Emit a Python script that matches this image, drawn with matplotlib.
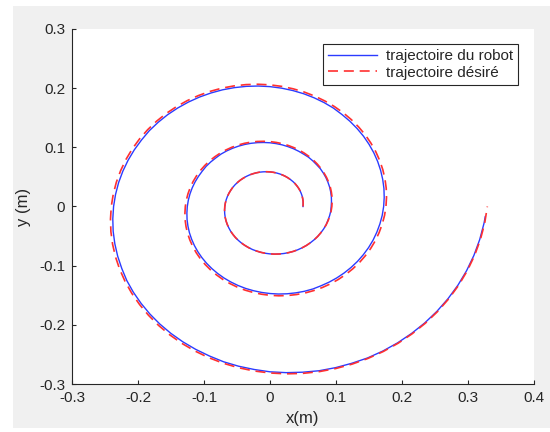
import numpy as np
import matplotlib
matplotlib.use("Agg")
import matplotlib.pyplot as plt
from matplotlib.patches import Rectangle

# Trajectories sampled every 5 degrees, in polar form: angle (deg), radius (m)
angle_desired = np.arange(0, 1081, 5)
radius_desired = [
    0.0500, 0.0504, 0.0509, 0.0513, 0.0518, 0.0522, 0.0527, 0.0532, 0.0536,
    0.0541, 0.0546, 0.0550, 0.0555, 0.0560, 0.0565, 0.0570, 0.0575, 0.0580,
    0.0585, 0.0590, 0.0595, 0.0601, 0.0606, 0.0611, 0.0617, 0.0622, 0.0627,
    0.0633, 0.0638, 0.0644, 0.0650, 0.0655, 0.0661, 0.0667, 0.0673, 0.0679,
    0.0685, 0.0691, 0.0697, 0.0703, 0.0709, 0.0715, 0.0721, 0.0728, 0.0734,
    0.0741, 0.0747, 0.0754, 0.0760, 0.0767, 0.0774, 0.0780, 0.0787, 0.0794,
    0.0801, 0.0808, 0.0815, 0.0822, 0.0829, 0.0837, 0.0844, 0.0851, 0.0859,
    0.0866, 0.0874, 0.0882, 0.0889, 0.0897, 0.0905, 0.0913, 0.0921, 0.0929,
    0.0937, 0.0945, 0.0954, 0.0962, 0.0971, 0.0979, 0.0988, 0.0996, 0.1005,
    0.1014, 0.1023, 0.1032, 0.1041, 0.1050, 0.1059, 0.1068, 0.1078, 0.1087,
    0.1097, 0.1106, 0.1116, 0.1126, 0.1136, 0.1146, 0.1156, 0.1166, 0.1176,
    0.1186, 0.1197, 0.1207, 0.1218, 0.1228, 0.1239, 0.1250, 0.1261, 0.1272,
    0.1283, 0.1294, 0.1306, 0.1317, 0.1329, 0.1340, 0.1352, 0.1364, 0.1376,
    0.1388, 0.1400, 0.1412, 0.1425, 0.1437, 0.1450, 0.1463, 0.1475, 0.1488,
    0.1501, 0.1515, 0.1528, 0.1541, 0.1555, 0.1568, 0.1582, 0.1596, 0.1610,
    0.1624, 0.1638, 0.1653, 0.1667, 0.1682, 0.1697, 0.1711, 0.1726, 0.1742,
    0.1757, 0.1772, 0.1788, 0.1803, 0.1819, 0.1835, 0.1851, 0.1867, 0.1884,
    0.1900, 0.1917, 0.1934, 0.1951, 0.1968, 0.1985, 0.2003, 0.2020, 0.2038,
    0.2056, 0.2074, 0.2092, 0.2110, 0.2129, 0.2147, 0.2166, 0.2185, 0.2204,
    0.2224, 0.2243, 0.2263, 0.2283, 0.2303, 0.2323, 0.2343, 0.2364, 0.2384,
    0.2405, 0.2426, 0.2448, 0.2469, 0.2491, 0.2513, 0.2535, 0.2557, 0.2579,
    0.2602, 0.2625, 0.2648, 0.2671, 0.2694, 0.2718, 0.2742, 0.2766, 0.2790,
    0.2814, 0.2839, 0.2864, 0.2889, 0.2914, 0.2940, 0.2966, 0.2992, 0.3018,
    0.3044, 0.3071, 0.3098, 0.3125, 0.3153, 0.3180, 0.3208, 0.3236, 0.3265,
    0.3293,
]

angle_robot = np.append(np.arange(0, 1076, 5), 1077)
radius_robot = [
    0.0500, 0.0504, 0.0509, 0.0513, 0.0518, 0.0522, 0.0527, 0.0532, 0.0536,
    0.0541, 0.0546, 0.0550, 0.0555, 0.0560, 0.0565, 0.0570, 0.0575, 0.0580,
    0.0585, 0.0590, 0.0595, 0.0601, 0.0606, 0.0611, 0.0617, 0.0622, 0.0627,
    0.0633, 0.0638, 0.0644, 0.0650, 0.0655, 0.0661, 0.0667, 0.0673, 0.0679,
    0.0685, 0.0691, 0.0697, 0.0703, 0.0709, 0.0715, 0.0721, 0.0728, 0.0734,
    0.0741, 0.0747, 0.0754, 0.0760, 0.0767, 0.0774, 0.0780, 0.0787, 0.0794,
    0.0801, 0.0808, 0.0815, 0.0822, 0.0829, 0.0837, 0.0844, 0.0851, 0.0859,
    0.0866, 0.0874, 0.0882, 0.0889, 0.0897, 0.0905, 0.0908, 0.0916, 0.0924,
    0.0927, 0.0935, 0.0944, 0.0952, 0.0961, 0.0969, 0.0978, 0.0986, 0.0995,
    0.0999, 0.1008, 0.1017, 0.1021, 0.1030, 0.1039, 0.1048, 0.1058, 0.1067,
    0.1077, 0.1086, 0.1096, 0.1106, 0.1116, 0.1126, 0.1136, 0.1146, 0.1156,
    0.1161, 0.1172, 0.1182, 0.1188, 0.1198, 0.1209, 0.1220, 0.1231, 0.1242,
    0.1253, 0.1264, 0.1276, 0.1287, 0.1299, 0.1310, 0.1322, 0.1334, 0.1346,
    0.1358, 0.1370, 0.1382, 0.1395, 0.1407, 0.1420, 0.1433, 0.1445, 0.1458,
    0.1471, 0.1485, 0.1498, 0.1511, 0.1525, 0.1538, 0.1547, 0.1561, 0.1575,
    0.1589, 0.1603, 0.1618, 0.1632, 0.1647, 0.1662, 0.1676, 0.1691, 0.1707,
    0.1722, 0.1737, 0.1753, 0.1768, 0.1784, 0.1800, 0.1816, 0.1832, 0.1849,
    0.1865, 0.1882, 0.1899, 0.1921, 0.1938, 0.1955, 0.1973, 0.1990, 0.2008,
    0.2026, 0.2044, 0.2062, 0.2080, 0.2099, 0.2117, 0.2136, 0.2155, 0.2174,
    0.2194, 0.2213, 0.2233, 0.2248, 0.2268, 0.2288, 0.2308, 0.2329, 0.2349,
    0.2370, 0.2391, 0.2413, 0.2434, 0.2456, 0.2478, 0.2505, 0.2527, 0.2549,
    0.2572, 0.2595, 0.2618, 0.2641, 0.2664, 0.2688, 0.2717, 0.2741, 0.2765,
    0.2794, 0.2819, 0.2844, 0.2874, 0.2899, 0.2925, 0.2956, 0.2982, 0.3008,
    0.3034, 0.3061, 0.3088, 0.3115, 0.3143, 0.3170, 0.3198, 0.3226, 0.3255,
    0.3266,
]

x_ticks = [-0.3, -0.2, -0.1, 0, 0.1, 0.2, 0.3, 0.4]
y_ticks = [-0.3, -0.2, -0.1, 0, 0.1, 0.2, 0.3]
tick_labels_x = ["-0.3", "-0.2", "-0.1", "0", "0.1", "0.2", "0.3", "0.4"]
tick_labels_y = ["-0.3", "-0.2", "-0.1", "0", "0.1", "0.2", "0.3"]


def to_xy(angle_deg, radius):
    t = np.deg2rad(np.asarray(angle_deg, dtype=float))
    r = np.asarray(radius, dtype=float)
    return r * np.cos(t), r * np.sin(t)


plt.rcParams["font.family"] = ["Liberation Sans", "DejaVu Sans"]
axis_color = "#262626"

fig = plt.figure(figsize=(5.5, 4.32), dpi=100, facecolor="white")
fig.patches.append(Rectangle((13 / 550, 1 - 428 / 432), 1 - 13 / 550, 422 / 432,
                             transform=fig.transFigure, facecolor="#f0f0f0",
                             edgecolor="none", zorder=-10))

ax = fig.add_axes([72 / 550, 1 - 384 / 432, 462 / 550, 355 / 432])
ax.set_facecolor("white")

xr, yr = to_xy(angle_robot, radius_robot)
xd, yd = to_xy(angle_desired, radius_desired)
ax.plot(xr, yr, color="#2b3bff", lw=1.0, label="trajectoire du robot")
ax.plot(xd, yd, color="#ff3030", lw=1.2, dashes=(6, 3.5), label="trajectoire désiré")

ax.set_xlim(-0.3, 0.4)
ax.set_ylim(-0.3, 0.3)
ax.set_xticks(x_ticks)
ax.set_xticklabels(tick_labels_x)
ax.set_yticks(y_ticks)
ax.set_yticklabels(tick_labels_y)

for side in ("top", "right"):
    ax.spines[side].set_visible(False)
for side in ("left", "bottom"):
    ax.spines[side].set_color(axis_color)
    ax.spines[side].set_linewidth(0.8)
ax.tick_params(direction="in", length=3, width=0.8, colors=axis_color,
               labelsize=11, pad=5)

ax.set_xlabel("x(m)", fontsize=12, color=axis_color, labelpad=4)
ax.set_ylabel("y (m)", fontsize=12, color=axis_color, labelpad=6)

leg = ax.legend(loc="upper right", bbox_to_anchor=((518 - 72) / 462, (384 - 44) / 355),
                borderaxespad=0, fontsize=11, handlelength=3.2, handletextpad=0.55,
                fancybox=False, framealpha=1, borderpad=0.35, labelspacing=0.15)
leg.get_frame().set_edgecolor(axis_color)
leg.get_frame().set_linewidth(0.8)
for txt in leg.get_texts():
    txt.set_color(axis_color)

fig.savefig("out.png", dpi=100, facecolor=fig.get_facecolor())
